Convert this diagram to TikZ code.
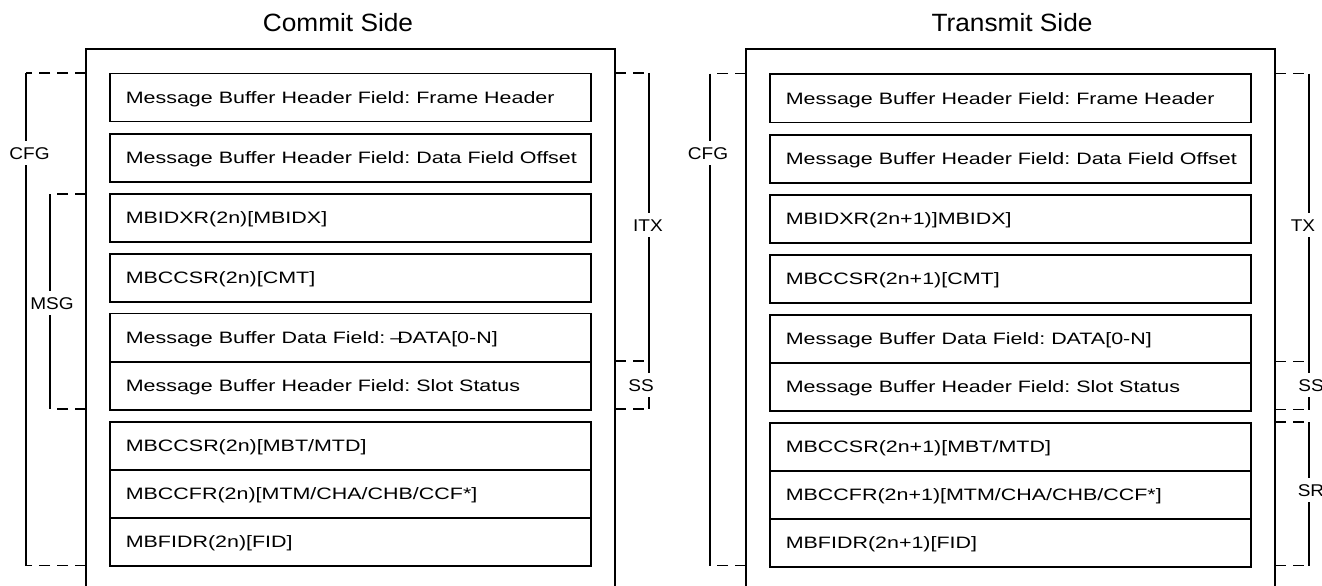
\documentclass[tikz,border=0pt]{standalone}
\usepackage{fontspec}
\setmainfont{Liberation Sans}
\newfontfamily\boxfont[FakeStretch=1.3]{Liberation Sans}
\newfontfamily\labfont[FakeStretch=1.12]{Liberation Sans}
\newfontfamily\titlefont[FakeStretch=1.05]{Liberation Sans}
\frenchspacing
\newcommand\rt[1]{\makebox[449pt][l]{#1}}
\tikzset{
  row/.style={draw, line width=1.6pt, minimum height=48pt, inner xsep=16pt, inner ysep=0pt,
    anchor=north west,
    font=\boxfont\fontsize{16.5}{18}\selectfont\frenchspacing, text height=11.7pt, text depth=0pt},
  outerbox/.style={line width=2.3pt},
  dashl/.style={line width=1.5pt, dash pattern=on 11pt off 7pt},
  brk/.style={line width=1.5pt},
  lab/.style={fill=white, inner xsep=1pt, inner ysep=6pt, font=\labfont\fontsize{17}{18}\selectfont, text height=12pt, text depth=0pt},
  ttl/.style={anchor=base, font=\titlefont\fontsize{25}{28}\selectfont},
}
\begin{document}
\begin{tikzpicture}[x=1pt, y=-1pt]
\useasboundingbox (0,0) rectangle (1322,586);

% titles
\node[ttl] (t1) at (338,32) {Commit Side};
\node[ttl] (t2) at (1012,32) {Transmit Side};

% outer boxes
\draw[outerbox] (86,600) -- (86,49) -- (615,49) -- (615,600);
\draw[outerbox] (746,600) -- (746,49) -- (1275,49) -- (1275,600);

% ---------- left panel rows ----------
\node[row] (l1)  at (109,72.7)  {\rt{Message Buffer Header Field: Frame Header}};
\node[row] (l2)  at (109,133.3) {\rt{Message Buffer Header Field: Data Field Offset}};
\node[row] (l3)  at (109,193.3) {\rt{MBIDXR(2n)[MBIDX]}};
\node[row] (l4)  at (109,253.3) {\rt{MBCCSR(2n)[CMT]}};
\node[row] (l5a) at (109,312.7) {\rt{Message Buffer Data Field:\hspace{6pt} \llap{–\kern-5pt}DATA[0-N]}};
\node[row] (l5b) at (109,361)   {\rt{Message Buffer Header Field: Slot Status}};
\node[row] (l6a) at (109,421)   {\rt{MBCCSR(2n)[MBT/MTD]}};
\node[row] (l6b) at (109,469)   {\rt{MBCCFR(2n)[MTM/CHA/CHB/CCF*]}};
\node[row] (l6c) at (109,517)   {\rt{MBFIDR(2n)[FID]}};

% ---------- right panel rows ----------
\node[row] (r1)  at (769,73.5)  {\rt{Message Buffer Header Field: Frame Header}};
\node[row] (r2)  at (769,134)   {\rt{Message Buffer Header Field: Data Field Offset}};
\node[row] (r3)  at (769,194)   {\rt{MBIDXR(2n+1)]MBIDX]}};
\node[row] (r4)  at (769,254)   {\rt{MBCCSR(2n+1)[CMT]}};
\node[row] (r5a) at (769,314)   {\rt{Message Buffer Data Field: DATA[0-N]}};
\node[row] (r5b) at (769,362)   {\rt{Message Buffer Header Field: Slot Status}};
\node[row] (r6a) at (769,422)   {\rt{MBCCSR(2n+1)[MBT/MTD]}};
\node[row] (r6b) at (769,470)   {\rt{MBCCFR(2n+1)[MTM/CHA/CHB/CCF*]}};
\node[row] (r6c) at (769,518)   {\rt{MBFIDR(2n+1)[FID]}};

% ---------- left panel brackets ----------
\coordinate (cfgA) at (86,73);   \coordinate (cfgB) at (26,73);
\coordinate (cfgC) at (26,565.5); \coordinate (cfgD) at (86,565.5);
\draw[dashl] (cfgA) -- (cfgB); \draw[brk] (cfgB) -- (cfgC); \draw[dashl] (cfgD) -- (cfgC);
\node[lab] (cfgL) at (29.5,153) {CFG};

\coordinate (msgA) at (86,194);  \coordinate (msgB) at (50,194);
\coordinate (msgC) at (50,409);  \coordinate (msgD) at (86,409);
\draw[dashl] (msgA) -- (msgB); \draw[brk] (msgB) -- (msgC); \draw[dashl] (msgD) -- (msgC);
\node[lab] (msgL) at (52,303) {MSG};

\coordinate (itxA) at (615,73);  \coordinate (itxB) at (649,73);
\coordinate (itxC) at (649,361); \coordinate (itxD) at (615,361);
\draw[dashl] (itxA) -- (itxB); \draw[brk] (itxB) -- (itxC); \draw[dashl] (itxD) -- (itxC);
\node[lab] (itxL) at (648,225) {ITX};

\coordinate (ssA) at (649,409); \coordinate (ssB) at (615,409);
\draw[brk] (itxC) -- (ssA); \draw[dashl] (ssB) -- (ssA);
\node[lab] (ssL) at (641,385) {SS};

% ---------- right panel brackets ----------
\coordinate (rcfgA) at (746,73.5);  \coordinate (rcfgB) at (710,73.5);
\coordinate (rcfgC) at (710,565.7); \coordinate (rcfgD) at (746,565.7);
\draw[dashl] (rcfgA) -- (rcfgB); \draw[brk] (rcfgB) -- (rcfgC); \draw[dashl] (rcfgD) -- (rcfgC);
\node[lab] (rcfgL) at (708,153) {CFG};

\coordinate (txA) at (1275,73.5); \coordinate (txB) at (1309,73.5);
\coordinate (txC) at (1309,361.5); \coordinate (txD) at (1275,361.5);
\draw[dashl] (txA) -- (txB); \draw[brk] (txB) -- (txC); \draw[dashl] (txD) -- (txC);
\node[lab] (txL) at (1303,225) {TX};

\coordinate (rssA) at (1309,409.5); \coordinate (rssB) at (1275,409.5);
\draw[brk] (txC) -- (rssA); \draw[dashl] (rssB) -- (rssA);
\node[lab] (rssL) at (1311,385) {SS};

\coordinate (srA) at (1275,422); \coordinate (srB) at (1309,422);
\coordinate (srC) at (1309,565.7); \coordinate (srD) at (1275,565.7);
\draw[dashl] (srA) -- (srB); \draw[brk] (srB) -- (srC); \draw[dashl] (srD) -- (srC);
\node[lab] (srL) at (1311,490) {SR};
\end{tikzpicture}
\end{document}
